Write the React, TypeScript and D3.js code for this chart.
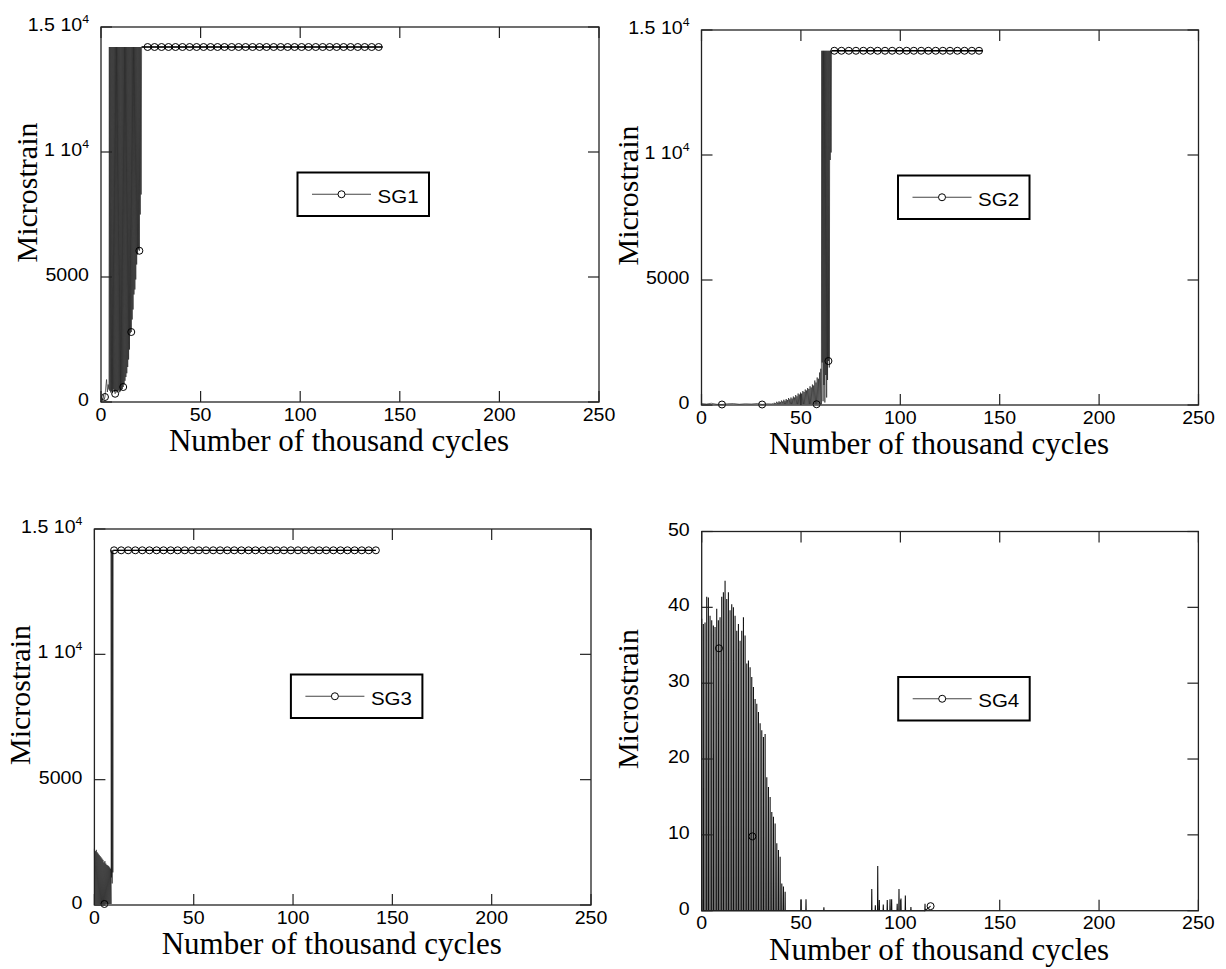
import React from "react";
import * as d3 from "d3";

type Pt = [number, number];

// ---------- axes ----------
const xTicks = [0, 50, 100, 150, 200, 250];
const strainTicks = [0, 5000, 10000, 15000];
const strainTickMant = ["0", "5000", "1 10", "1.5 10"];
const strainTickExp = ["", "", "4", "4"];
const sg4Ticks = [0, 10, 20, 30, 40, 50];
const sg4TickMant = ["0", "10", "20", "30", "40", "50"];
const sg4TickExp = ["", "", "", "", "", ""];

// ---------- SG1 ----------
const sg1StartX = [0, 0.4, 0.8, 1.2, 1.6, 2.0, 2.4, 2.8, 3.2, 3.6, 4.0];
const sg1StartY = [0, 150, 50, 300, 100, 200, 600, 900, 400, 700, 500];
const sg1High = 14200;
const sg1OscStart = 4.4;
const sg1OscStep = 0.45;
const sg1Lows = [450, 380, 420, 350, 500, 400, 330, 450, 380, 420, 460, 390, 430, 480, 520, 600,
  700, 850, 1000, 1150, 1400, 1700, 2100, 2750, 2800, 3300, 3700, 4300, 4500, 4900, 5500, 5900,
  6100, 6050, 7500, 8300];
const sg1FlatX = [23.4, 26.9, 30.4, 33.9, 37.4, 40.9, 44.5, 48.0, 51.5, 55.0, 58.5, 62.0, 65.6, 69.1,
  72.6, 76.1, 79.6, 83.1, 86.7, 90.2, 93.7, 97.2, 100.7, 104.2, 107.8, 111.3, 114.8, 118.3, 121.8,
  125.3, 128.9, 132.4, 135.9, 139.4];
const sg1EndX = 141.3;
const sg1MarkX = [2.0, 7.1, 11.15, 15.2, 19.25];
const sg1MarkY = [200, 330, 600, 2800, 6050];

// ---------- SG2 ----------
const sg2StartX = [0, 2.5, 5, 7.5, 10.3, 13, 16, 19, 22, 25, 28, 30.5, 33, 35.5];
const sg2StartY = [60, 40, 70, 30, 20, 50, 60, 30, 50, 40, 60, 20, 50, 40];
const sg2GrowStart = 36.0;
const sg2GrowStep = 0.6;
const sg2Base = 30;
const sg2Peaks = [60, 90, 70, 130, 100, 150, 120, 180, 140, 210, 170, 240, 200, 280, 230, 300, 260,
  340, 300, 400, 350, 460, 420, 500, 460, 560, 520, 620, 580, 680, 640, 750, 700, 820, 780, 980, 900,
  1100, 1050, 1300, 1450];
const sg2High = 14170;
const sg2TallStart = 60.7;
const sg2TallStep = 0.45;
const sg2TallLows = [1700, 150, 800, 100, 1200, 300, 1000, 1760, 1500, 9800, 10100];
const sg2FlatX = [66.8, 70.4, 74.1, 77.7, 81.4, 85.0, 88.6, 92.3, 95.9, 99.6, 103.2, 106.8, 110.5,
  114.1, 117.8, 121.4, 125.0, 128.7, 132.3, 136.0, 139.6];
const sg2EndX = 141.5;
const sg2MarkX = [10.3, 30.5, 57.9, 63.85];
const sg2MarkY = [20, 20, 30, 1760];

// ---------- SG3 ----------
const sg3OscStart = 0.0;
const sg3OscStep = 0.48;
const sg3Base = 40;
const sg3Peaks = [2250, 2150, 2200, 2100, 2050, 2000, 1950, 1900, 1850, 1800, 1700, 1750, 1650, 1600,
  1580, 1550, 1500, 1450];
const sg3High = 14150;
const sg3TallStart = 8.6;
const sg3TallStep = 0.35;
const sg3TallLows = [1100, 860, 1300];
const sg3FlatX = [9.9, 13.5, 17.0, 20.6, 24.1, 27.7, 31.3, 34.8, 38.4, 41.9, 45.5, 49.1, 52.6, 56.2,
  59.8, 63.3, 66.9, 70.4, 74.0, 77.6, 81.1, 84.7, 88.3, 91.8, 95.4, 98.9, 102.5, 106.1, 109.6, 113.2,
  116.7, 120.3, 123.9, 127.4, 131.0, 134.6, 138.1, 141.7];
const sg3MarkX = [5.04];
const sg3MarkY = [40];

// ---------- SG4 ----------
const sg4OscStart = 0.0;
const sg4OscStep = 0.84;
const sg4Base = 0;
const sg4Peaks = [38.5, 37.8, 38.0, 41.4, 41.3, 38.9, 38.3, 37.6, 37.4, 39.8, 38.3, 38.7, 41.4, 42.0,
  43.5, 41.1, 42.0, 39.6, 40.4, 40.0, 38.9, 36.9, 37.8, 35.6, 36.9, 38.7, 36.3, 32.6, 33.0, 32.1, 30.8,
  29.5, 27.9, 27.3, 26.2, 24.7, 23.8, 22.9, 23.3, 17.6, 16.3, 15.0, 13.0, 12.4, 11.5, 8.9, 8.0, 7.1,
  3.6, 3.2, 2.5];
const sg4SpikeX = [50.0, 52.5, 61.5, 85.6, 87.4, 88.6, 89.4, 91.4, 93.4, 94.8, 95.6, 98.4, 99.3,
  100.3, 102.5, 105.3, 112.4];
const sg4SpikeY = [1.5, 1.5, 0.45, 2.85, 0.7, 5.9, 1.4, 0.8, 1.4, 1.5, 1.5, 0.9, 2.85, 1.6, 2.0,
  0.5, 0.9];
const sg4EndX = 115.2;
const sg4EndY = 0.6;
const sg4MarkX = [8.7, 25.5, 115.2];
const sg4MarkY = [34.6, 9.8, 0.6];

// ---------- builders ----------
function zip(xs: number[], ys: number[]): Pt[] {
  return xs.map((x, i) => [x, ys[i]] as Pt);
}
function oscHighLow(start: number, step: number, lows: number[], high: number): Pt[] {
  const pts: Pt[] = [];
  lows.forEach((v, i) => {
    const xi = start + i * step;
    pts.push([xi - step / 2, high]);
    pts.push([xi, v]);
  });
  pts.push([start + (lows.length - 1) * step + step / 2, high]);
  return pts;
}
function oscPeakBase(start: number, step: number, peaks: number[], base: number): Pt[] {
  const pts: Pt[] = [];
  peaks.forEach((v, i) => {
    const xi = start + i * step;
    pts.push([xi, v]);
    pts.push([xi + step / 2, base]);
  });
  return pts;
}
function spikes(xs: number[], ys: number[], base: number, hw: number): Pt[] {
  const pts: Pt[] = [];
  xs.forEach((x, i) => {
    pts.push([x - hw, base]);
    pts.push([x, ys[i]]);
    pts.push([x + hw, base]);
  });
  return pts;
}

const sg1Osc = oscHighLow(sg1OscStart, sg1OscStep, sg1Lows, sg1High);
const sg1Flat: Pt[] = [sg1Osc[sg1Osc.length - 1], ...sg1FlatX.map((x) => [x, sg1High] as Pt), [sg1EndX, sg1High]];
const sg1Points: Pt[] = [...zip(sg1StartX, sg1StartY), ...sg1Osc, ...sg1Flat];
const sg1Marks: Pt[] = [...zip(sg1MarkX, sg1MarkY), ...sg1FlatX.map((x) => [x, sg1High] as Pt)];

const sg2Tall = oscHighLow(sg2TallStart, sg2TallStep, sg2TallLows, sg2High);
const sg2Flat: Pt[] = [sg2Tall[sg2Tall.length - 1], ...sg2FlatX.map((x) => [x, sg2High] as Pt), [sg2EndX, sg2High]];
const sg2Points: Pt[] = [
  ...zip(sg2StartX, sg2StartY),
  ...oscPeakBase(sg2GrowStart, sg2GrowStep, sg2Peaks, sg2Base),
  ...sg2Tall,
  ...sg2Flat,
];
const sg2Marks: Pt[] = [...zip(sg2MarkX, sg2MarkY), ...sg2FlatX.map((x) => [x, sg2High] as Pt)];

const sg3Tall = oscHighLow(sg3TallStart, sg3TallStep, sg3TallLows, sg3High);
const sg3Flat: Pt[] = [sg3Tall[sg3Tall.length - 1], ...sg3FlatX.map((x) => [x, sg3High] as Pt)];
const sg3Points: Pt[] = [...oscPeakBase(sg3OscStart, sg3OscStep, sg3Peaks, sg3Base), ...sg3Tall, ...sg3Flat];
const sg3Marks: Pt[] = [...zip(sg3MarkX, sg3MarkY), ...sg3FlatX.map((x) => [x, sg3High] as Pt)];

const sg4PeakX = sg4Peaks.map((_, i) => sg4OscStart + i * sg4OscStep);
const sg4Points: Pt[] = [
  ...spikes(sg4PeakX, sg4Peaks, sg4Base, 0.05),
  ...spikes(sg4SpikeX, sg4SpikeY, sg4Base, 0.1),
  [sg4EndX, sg4EndY],
];
const sg4Marks: Pt[] = zip(sg4MarkX, sg4MarkY);

const SANS = "'Liberation Sans', Arial, Helvetica, sans-serif";
const SERIF = "'Liberation Serif', 'Times New Roman', Times, serif";

function WideText(props: { x: number; y: number; anchor: string; size: number; sx: number; children: any }) {
  return (
    <text
      transform={`translate(${props.x},${props.y}) scale(${props.sx},1)`}
      textAnchor={props.anchor as any}
      fontFamily={SANS}
      fontSize={props.size}
      fill="#000"
    >
      {props.children}
    </text>
  );
}

type PanelProps = {
  left: number; top: number; width: number; height: number;
  yMax: number; yTicks: number[]; yMant: string[]; yExp: string[];
  points: Pt[]; flat: Pt[]; marks: Pt[]; label: string; legendW: number; lineW: number;
};

function Panel(p: PanelProps) {
  const { left, top, width, height } = p;
  const bottom = top + height;
  const right = left + width;
  const x = d3.scaleLinear().domain([0, 250]).range([left, right]);
  const y = d3.scaleLinear().domain([0, p.yMax]).range([bottom, top]);
  const line = d3.line<Pt>().x((d) => x(d[0])).y((d) => y(d[1]));
  const tl = 11;
  const lgX = left + 196.5;
  const lgY = top + 145.5;
  const lgH = 43.5;
  const lgCy = lgY + lgH / 2;
  return (
    <g>
      <path d={line(p.points) || ""} fill="none" stroke="#111" strokeWidth={p.lineW} />
      {p.flat.length ? (
        <path d={line(p.flat) || ""} fill="none" stroke="#000" strokeWidth={1.3} />
      ) : null}
      {p.marks.map((m, i) => (
        <circle key={i} cx={x(m[0])} cy={y(m[1])} r={3.5} fill="none" stroke="#000" strokeWidth={1} />
      ))}
      <rect x={left} y={top} width={width} height={height} fill="none" stroke="#222" strokeWidth={1.3} />
      {xTicks.map((t) => (
        <g key={"x" + t}>
          <line x1={x(t)} x2={x(t)} y1={bottom} y2={bottom - tl} stroke="#222" strokeWidth={1.2} />
          <line x1={x(t)} x2={x(t)} y1={top} y2={top + tl} stroke="#222" strokeWidth={1.2} />
          <WideText x={x(t)} y={bottom + 18.5} anchor="middle" size={17.5} sx={1.12}>
            {t}
          </WideText>
        </g>
      ))}
      {p.yTicks.map((t, i) => (
        <g key={"y" + t}>
          <line x1={left} x2={left + tl} y1={y(t)} y2={y(t)} stroke="#222" strokeWidth={1.2} />
          <line x1={right} x2={right - tl} y1={y(t)} y2={y(t)} stroke="#222" strokeWidth={1.2} />
          <WideText x={left - 12} y={y(t) + 4} anchor="end" size={17.5} sx={1.12}>
            {p.yMant[i]}
            {p.yExp[i] ? (
              <tspan fontSize={11} dy={-8}>{p.yExp[i]}</tspan>
            ) : null}
          </WideText>
        </g>
      ))}
      <text x={(left + right) / 2 - 11} y={bottom + 49} textAnchor="middle" fontFamily={SERIF} fontSize={31} fill="#000">
        Number of thousand cycles
      </text>
      <text
        transform={`translate(${left - 64},${(top + bottom) / 2 - 22}) rotate(-90)`}
        textAnchor="middle" fontFamily={SERIF} fontSize={30} fill="#000"
      >
        Microstrain
      </text>
      <rect x={lgX} y={lgY} width={p.legendW} height={lgH} fill="#fff" stroke="#000" strokeWidth={2} />
      <line x1={lgX + 14.5} x2={lgX + 73.5} y1={lgCy} y2={lgCy} stroke="#444" strokeWidth={1.2} />
      <circle cx={lgX + 44} cy={lgCy} r={3.5} fill="#fff" stroke="#000" strokeWidth={1} />
      <WideText x={lgX + 80} y={lgY + 30} anchor="start" size={19} sx={1.08}>
        {p.label}
      </WideText>
    </g>
  );
}

export default function App() {
  return (
    <svg
      width={1226}
      height={969}
      viewBox="0 0 1226 969"
      style={{ position: "absolute", left: 0, top: 0, background: "#fff" }}
    >
      <rect x={0} y={0} width={1226} height={969} fill="#fff" />
      <Panel left={101} top={27} width={498} height={375} yMax={15000} yTicks={strainTicks}
        yMant={strainTickMant} yExp={strainTickExp} points={sg1Points} flat={sg1Flat} marks={sg1Marks}
        label="SG1" legendW={131.5} lineW={0.6} />
      <Panel left={701.5} top={30} width={497} height={375} yMax={15000} yTicks={strainTicks}
        yMant={strainTickMant} yExp={strainTickExp} points={sg2Points} flat={sg2Flat} marks={sg2Marks}
        label="SG2" legendW={131.5} lineW={0.6} />
      <Panel left={94.4} top={529} width={496.6} height={376} yMax={15000} yTicks={strainTicks}
        yMant={strainTickMant} yExp={strainTickExp} points={sg3Points} flat={sg3Flat} marks={sg3Marks}
        label="SG3" legendW={131.5} lineW={0.6} />
      <Panel left={701.7} top={531.5} width={496.7} height={379.2} yMax={50} yTicks={sg4Ticks}
        yMant={sg4TickMant} yExp={sg4TickExp} points={sg4Points} flat={[]} marks={sg4Marks}
        label="SG4" legendW={131.5} lineW={1.1} />
    </svg>
  );
}
